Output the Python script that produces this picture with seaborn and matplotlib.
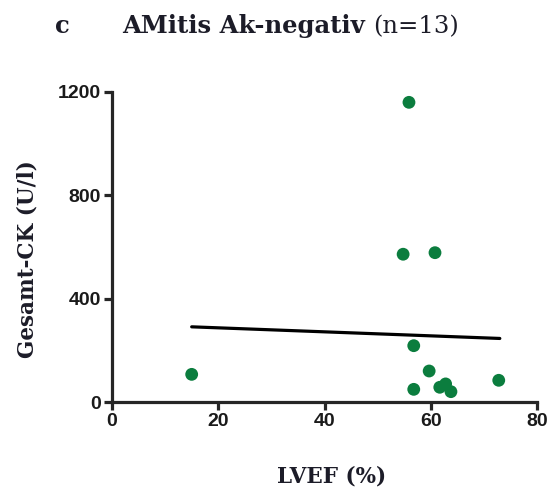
import numpy as np
import pandas as pd
import seaborn as sns
import matplotlib.pyplot as plt

# values
lvef = [15.0, 55.9, 54.8, 60.8, 56.8, 59.7, 56.8, 61.7, 62.8, 63.8, 72.8]
ck = [107, 1160, 572, 578, 218, 120, 49, 57, 70, 40, 84]

# regression line end points as drawn
fit_x = [15, 73]
fit_y = [291, 246]

x_ticks = [0, 20, 40, 60, 80]
y_ticks = [0, 400, 800, 1200]

df = pd.DataFrame({"LVEF": lvef, "CK": ck})
fit = pd.DataFrame({"LVEF": fit_x, "CK": fit_y})

sns.set_style("ticks")
text_col = "#1c1c28"
serif = "DejaVu Serif"

fig = plt.figure(figsize=(5.54, 4.94), dpi=100)
ax = fig.add_axes([112 / 554, 1 - 402 / 494, 425 / 554, 310 / 494])

sns.lineplot(data=fit, x="LVEF", y="CK", color="black", linewidth=2.3, ax=ax)
sns.scatterplot(data=df, x="LVEF", y="CK", color="#0b7d3e", s=85,
                edgecolor="none", ax=ax, zorder=3, clip_on=False)

ax.set_xlim(0, 80)
ax.set_ylim(0, 1200)
ax.set_xticks(x_ticks)
ax.set_yticks(y_ticks)
sns.despine(ax=ax)
for side in ["left", "bottom"]:
    ax.spines[side].set_linewidth(2.3)
ax.tick_params(width=2.3, length=6, labelsize=14, pad=2)
for lab in ax.get_xticklabels() + ax.get_yticklabels():
    lab.set_fontfamily("Liberation Sans")
    lab.set_fontweight("bold")
    lab.set_color("#1a1a1a")

ax.set_xlabel("")
ax.set_ylabel("")
fig.text(332 / 554, 1 - 476 / 494, "LVEF (%)", fontfamily=serif, fontweight="bold",
         fontsize=15.5, color=text_col, ha="center", va="center")
fig.text(28 / 554, 1 - 259 / 494, "Gesamt-CK (U/l)", fontfamily=serif,
         fontweight="bold", fontsize=15.5, color=text_col, rotation=90,
         ha="center", va="center")

base = 1 - 33 / 494
fig.text(55 / 554, base, "c", fontfamily=serif, fontweight="bold",
         fontsize=17.5, color=text_col, va="baseline")
fig.text(122 / 554, base, "AMitis Ak-negativ", fontfamily=serif,
         fontweight="bold", fontsize=17.5, color=text_col, va="baseline")
fig.text(373 / 554, base, "(n=13)", fontfamily=serif,
         fontsize=17.5, color=text_col, va="baseline")

fig.savefig("out.png", dpi=100)
